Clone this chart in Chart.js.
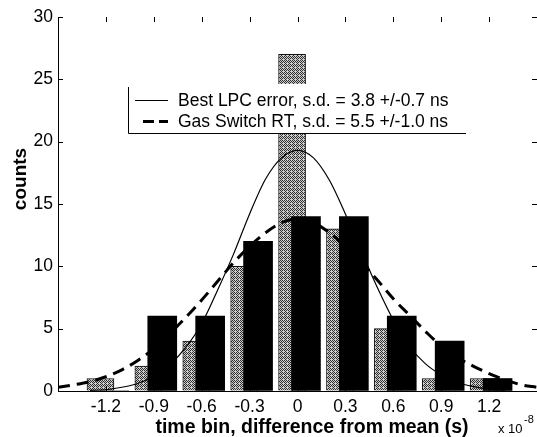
<!DOCTYPE html>
<html>
<head>
<meta charset="utf-8">
<script src="https://cdn.jsdelivr.net/npm/chart.js@4.4.0/dist/chart.umd.min.js"></script>
<style>
  html, body { margin: 0; padding: 0; background: #fff; }
</style>
</head>
<body>
<canvas id="histChart" width="537" height="437"></canvas>
<script>
// Histogram bins (x 10^-8 s) and counts
const binCenters = [-1.2, -0.9, -0.6, -0.3, 0, 0.3, 0.6, 0.9, 1.2];
const lpcCounts = [1, 2, 4, 10, 27, 13, 5, 1, 1];
const gasCounts = [0, 6, 6, 12, 14, 14, 6, 4, 1];

// Fitted curves
const lpcFitX = [-1.3, -1.2, -1.1, -1.0, -0.9, -0.8, -0.7, -0.6, -0.5, -0.4, -0.3, -0.2, -0.1, 0,
                 0.1, 0.2, 0.3, 0.4, 0.5, 0.6, 0.7, 0.8, 0.9, 1.0, 1.1, 1.2, 1.3];
const lpcFitY = [0.05, 0.1, 0.3, 0.6, 1.2, 2.1, 3.5, 5.4, 8.1, 11.0, 14.2, 17.0, 18.7, 19.3,
                 18.7, 16.9, 14.2, 11.2, 8.3, 5.7, 3.6, 2.2, 1.3, 0.7, 0.35, 0.15, 0.05];
const gasFitX = [-1.5, -1.4, -1.3, -1.2, -1.1, -1.0, -0.9, -0.8, -0.7, -0.6, -0.5, -0.4, -0.3, -0.2, -0.1, 0,
                 0.1, 0.2, 0.3, 0.4, 0.5, 0.6, 0.7, 0.8, 0.9, 1.0, 1.1, 1.2, 1.3, 1.4, 1.5];
const gasFitY = [0.3, 0.5, 0.75, 1.15, 1.7, 2.45, 3.4, 4.6, 5.9, 7.3, 8.8, 10.3, 11.6, 12.7, 13.5, 13.8,
                 13.5, 12.7, 11.6, 10.3, 8.9, 7.4, 6.1, 4.8, 3.6, 2.7, 2.0, 1.4, 0.9, 0.5, 0.3];

const xTicks = [-1.2, -0.9, -0.6, -0.3, 0, 0.3, 0.6, 0.9, 1.2];
const yTicks = [0, 5, 10, 15, 20, 25, 30];

const lpcLabel = 'Best LPC error, s.d. = 3.8 +/-0.7 ns';
const gasLabel = 'Gas Switch RT, s.d. = 5.5 +/-1.0 ns';

const FONT = '"Liberation Sans", Arial, sans-serif';
// the two bar series sit a little left / right of the bin centre
const GRAY_SHIFT = -0.034;
const BLACK_SHIFT = 0.053;

// Stippled grey fill like the scanned print
function makeStipple() {
    const c = document.createElement('canvas');
    c.width = 4; c.height = 4;
    const g = c.getContext('2d');
    g.fillStyle = '#cfcfcf';
    g.fillRect(0, 0, 4, 4);
    g.fillStyle = '#2e2e2e';
    [[0, 0], [2, 0], [1, 1], [3, 1], [0, 2], [2, 2], [1, 3]].forEach(([i, j]) => g.fillRect(i, j, 1, 1));
    return g.createPattern(c, 'repeat');
}

function toPoints(xs, ys, shift = 0) {
    return xs.map((v, i) => ({ x: v + shift, y: ys[i] }));
}

// Inward ticks, legend box and axis titles
const decorations = {
    id: 'decorations',
    afterDatasetsDraw(chart) {
        const { ctx, chartArea: a, scales: { x, y } } = chart;
        ctx.save();
        ctx.strokeStyle = '#000';
        ctx.lineWidth = 1;
        ctx.beginPath();
        x.ticks.forEach(t => {
            const px = Math.round(x.getPixelForValue(t.value)) + 0.5;
            ctx.moveTo(px, a.bottom); ctx.lineTo(px, a.bottom - 5);
            ctx.moveTo(px, a.top); ctx.lineTo(px, a.top + 5);
        });
        y.ticks.forEach(t => {
            const py = Math.round(y.getPixelForValue(t.value)) + 0.5;
            ctx.moveTo(a.left, py); ctx.lineTo(a.left + 5, py);
            ctx.moveTo(a.right, py); ctx.lineTo(a.right - 5, py);
        });
        ctx.stroke();

        // legend
        const lx = 128, ly = 84, lw = 338, lh = 49;
        ctx.fillStyle = '#fff';
        ctx.fillRect(lx, ly, lw, lh);
        ctx.beginPath();
        ctx.moveTo(lx + 0.5, ly + 3);
        ctx.lineTo(lx + 0.5, ly + lh + 0.5);
        ctx.lineTo(lx + lw, ly + lh + 0.5);
        ctx.stroke();

        ctx.beginPath();
        ctx.moveTo(lx + 7, 100.5);
        ctx.lineTo(lx + 40, 100.5);
        ctx.stroke();
        ctx.save();
        ctx.lineWidth = 3;
        ctx.setLineDash([11, 5]);
        ctx.beginPath();
        ctx.moveTo(lx + 15, 121.5);
        ctx.lineTo(lx + 40, 121.5);
        ctx.stroke();
        ctx.restore();

        ctx.fillStyle = '#000';
        ctx.font = '17.5px ' + FONT;
        ctx.textAlign = 'left';
        ctx.textBaseline = 'alphabetic';
        ctx.fillText(lpcLabel, lx + 50, 106);
        ctx.fillText(gasLabel, lx + 50, 127);
        ctx.restore();
    },
    afterDraw(chart) {
        const { ctx } = chart;
        ctx.save();
        ctx.fillStyle = '#000';
        ctx.font = 'bold 19.5px ' + FONT;
        ctx.textAlign = 'center';
        ctx.textBaseline = 'alphabetic';
        ctx.fillText('time bin, difference from mean (s)', 312, 433);

        ctx.font = '13px ' + FONT;
        ctx.textAlign = 'left';
        ctx.fillText('x 10', 498, 433);
        ctx.font = '11px ' + FONT;
        ctx.fillText('-8', 524, 423);

        ctx.translate(21, 179);
        ctx.rotate(-Math.PI / 2);
        ctx.font = 'bold 19px ' + FONT;
        ctx.textAlign = 'center';
        ctx.textBaseline = 'middle';
        ctx.fillText('counts', 0, 0);
        ctx.restore();
    }
};

function renderChart() {
    const ctx = document.getElementById('histChart').getContext('2d');
    const tickFont = { family: FONT, size: 17.5 };

    new Chart(ctx, {
        type: 'bar',
        data: {
            datasets: [
                {
                    type: 'line',
                    label: lpcLabel,
                    data: toPoints(lpcFitX, lpcFitY),
                    borderColor: '#000',
                    borderWidth: 1.2,
                    pointRadius: 0,
                    cubicInterpolationMode: 'monotone',
                    fill: false,
                    order: 1
                },
                {
                    type: 'line',
                    label: gasLabel,
                    data: toPoints(gasFitX, gasFitY),
                    borderColor: '#000',
                    borderWidth: 3,
                    borderDash: [12, 7],
                    pointRadius: 0,
                    cubicInterpolationMode: 'monotone',
                    fill: false,
                    order: 2
                },
                {
                    label: 'Gas Switch RT',
                    data: toPoints(binCenters, gasCounts, BLACK_SHIFT),
                    backgroundColor: '#000',
                    borderWidth: 0,
                    barThickness: 29,
                    grouped: false,
                    order: 3
                },
                {
                    label: 'Best LPC error',
                    data: toPoints(binCenters, lpcCounts, GRAY_SHIFT),
                    backgroundColor: makeStipple(),
                    borderColor: '#111',
                    borderWidth: 1,
                    barThickness: 27,
                    grouped: false,
                    order: 4
                }
            ]
        },
        options: {
            responsive: false,
            animation: false,
            layout: { padding: { top: 17, right: 0, bottom: 0, left: 0 } },
            plugins: {
                legend: { display: false },
                tooltip: { enabled: false }
            },
            scales: {
                x: {
                    type: 'linear',
                    min: -1.5,
                    max: 1.5,
                    offset: false,
                    afterBuildTicks: s => { s.ticks = xTicks.map(v => ({ value: v })); },
                    afterFit: s => { s.height = 46; },
                    grid: { display: true, drawOnChartArea: false, drawTicks: false },
                    border: { display: true, color: '#000', width: 1 },
                    ticks: {
                        color: '#000',
                        font: tickFont,
                        padding: 6,
                        maxRotation: 0,
                        autoSkip: false,
                        callback: v => (v === 0 ? '0' : v.toFixed(1))
                    }
                },
                y: {
                    min: 0,
                    max: 30,
                    afterBuildTicks: s => { s.ticks = yTicks.map(v => ({ value: v })); },
                    afterFit: s => { s.width = 58; },
                    grid: { display: true, drawOnChartArea: false, drawTicks: false },
                    border: { display: true, color: '#000', width: 1 },
                    ticks: {
                        color: '#000',
                        font: tickFont,
                        padding: 5,
                        callback: v => String(v)
                    }
                }
            }
        },
        plugins: [decorations]
    });
}

document.addEventListener('DOMContentLoaded', renderChart);
</script>
</body>
</html>
